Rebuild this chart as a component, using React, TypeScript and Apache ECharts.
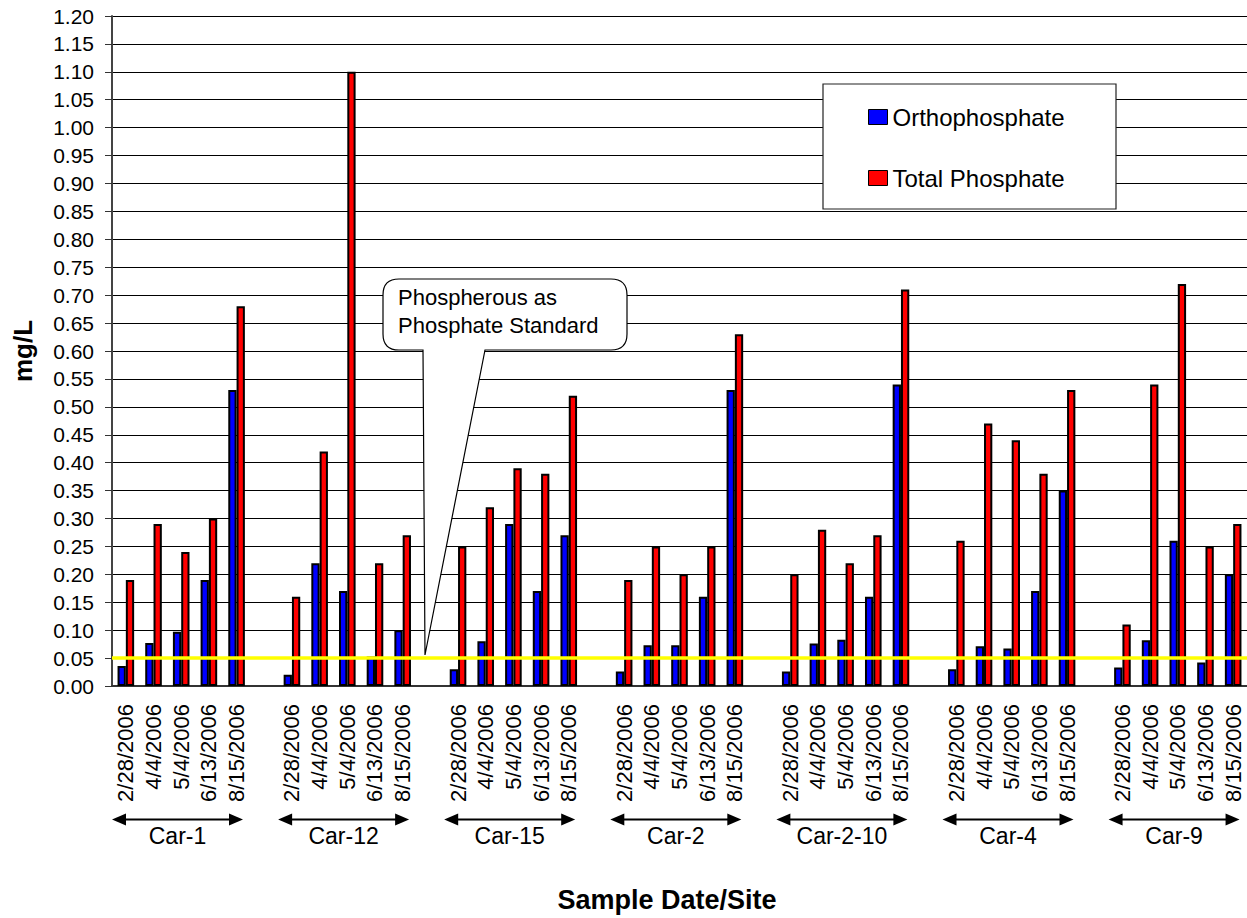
import { useEffect, useRef } from "react";
import * as echarts from "echarts";

// Sites and sample dates along the x axis
const sites = ["Car-1", "Car-12", "Car-15", "Car-2", "Car-2-10", "Car-4", "Car-9"];
const dates = ["2/28/2006", "4/4/2006", "5/4/2006", "6/13/2006", "8/15/2006"];

// mg/L, five dates per site, in site order
const orthophosphate = [
  0.036, 0.077, 0.097, 0.19, 0.53,
  0.02, 0.22, 0.17, 0.053, 0.10,
  0.03, 0.08, 0.29, 0.17, 0.27,
  0.026, 0.073, 0.073, 0.16, 0.53,
  0.026, 0.076, 0.083, 0.16, 0.54,
  0.03, 0.071, 0.067, 0.17, 0.35,
  0.033, 0.082, 0.26, 0.042, 0.20,
];
const totalPhosphate = [
  0.19, 0.29, 0.24, 0.30, 0.68,
  0.16, 0.42, 1.10, 0.22, 0.27,
  0.25, 0.32, 0.39, 0.38, 0.52,
  0.19, 0.25, 0.20, 0.25, 0.63,
  0.20, 0.28, 0.22, 0.27, 0.71,
  0.26, 0.47, 0.44, 0.38, 0.53,
  0.11, 0.54, 0.72, 0.25, 0.29,
];
const phosphateStandard = 0.05;

const FONT = "'Liberation Sans', Arial, sans-serif";

echarts.graphic.registerShape(
  "callout",
  echarts.graphic.extendPath(
    "M16,0 H228 Q244,0 244,16 V55 Q244,71 228,71 H102 L42,376 L40,71 H16 Q0,71 0,55 V16 Q0,0 16,0 Z",
    {}
  )
);

// one empty category between site groups
function buildCategories() {
  const cats: string[] = [];
  const ortho: (number | string)[] = [];
  const total: (number | string)[] = [];
  sites.forEach((_, i) => {
    dates.forEach((d, j) => {
      cats.push(d);
      ortho.push(orthophosphate[i * dates.length + j]);
      total.push(totalPhosphate[i * dates.length + j]);
    });
    if (i < sites.length - 1) {
      cats.push("");
      ortho.push("-");
      total.push("-");
    }
  });
  return { cats, ortho, total };
}

export default function App() {
  const ref = useRef<HTMLDivElement>(null);

  useEffect(() => {
    if (!ref.current) return;
    const chart = echarts.init(ref.current, null, { renderer: "svg" });
    const { cats, ortho, total } = buildCategories();

    const staticGraphics: any[] = [
      {
        id: "legendBox",
        type: "rect",
        shape: { x: 823, y: 84, width: 293, height: 125 },
        style: { fill: "#fff", stroke: "#222", lineWidth: 1.2 },
        z: 3,
      },
      {
        id: "callout",
        type: "callout",
        x: 383,
        y: 279,
        style: { fill: "#fff", stroke: "#000", lineWidth: 1.2 },
        z: 10,
      },
      {
        id: "calloutText",
        type: "text",
        x: 398,
        y: 283,
        z: 11,
        style: {
          text: "Phospherous as\nPhosphate Standard",
          font: `22px ${FONT}`,
          lineHeight: 28,
          fill: "#000",
        },
      },
      {
        id: "xTitle",
        type: "text",
        x: 667,
        y: 900,
        style: {
          text: "Sample Date/Site",
          font: `bold 27px ${FONT}`,
          fill: "#000",
          align: "center",
          verticalAlign: "middle",
        },
      },
    ];

    chart.setOption({
      animation: false,
      textStyle: { fontFamily: FONT },
      grid: { left: 112, right: 0, top: 16, bottom: 232, outerBoundsMode: "none", containLabel: false },
      legend: {
        orient: "vertical",
        left: 868,
        top: 104,
        padding: 0,
        itemGap: 35,
        itemWidth: 19,
        itemHeight: 15,
        icon: "rect",
        z: 5,
        itemStyle: { borderColor: "#000", borderWidth: 1 },
        textStyle: { fontSize: 24, color: "#000", lineHeight: 26, fontFamily: FONT },
        data: ["Orthophosphate", "Total Phosphate"],
      },
      xAxis: {
        type: "category",
        data: cats,
        boundaryGap: true,
        axisLine: { lineStyle: { color: "#333", width: 2 } },
        axisTick: { interval: 0, length: 7, lineStyle: { color: "#333" } },
        axisLabel: {
          interval: 0,
          rotate: 90,
          margin: 18,
          fontSize: 22,
          color: "#000",
          fontFamily: FONT,
        },
        splitLine: { show: false },
      },
      yAxis: {
        type: "value",
        min: 0,
        max: 1.2,
        interval: 0.05,
        name: "mg/L",
        nameLocation: "middle",
        nameRotate: 90,
        nameGap: 76,
        nameTextStyle: { fontSize: 26, fontWeight: "bold", color: "#000", fontFamily: FONT },
        axisLine: { show: true, lineStyle: { color: "#444", width: 2 } },
        axisTick: { show: true, length: 7, lineStyle: { color: "#333" } },
        axisLabel: {
          margin: 18,
          fontSize: 21,
          color: "#000",
          fontFamily: FONT,
          formatter: (v: number) => v.toFixed(2),
        },
        splitLine: { lineStyle: { color: "#000", width: 1 } },
      },
      series: [
        {
          name: "Orthophosphate",
          type: "bar",
          data: ortho,
          barWidth: 8.3,
          barGap: "0%",
          itemStyle: { color: "#0000ff", borderColor: "#000", borderWidth: 2 },
        },
        {
          name: "Total Phosphate",
          type: "bar",
          data: total,
          barWidth: 8.3,
          barGap: "0%",
          itemStyle: { color: "#ff0000", borderColor: "#000", borderWidth: 2 },
          markLine: {
            silent: true,
            symbol: ["none", "none"],
            label: { show: false },
            lineStyle: { color: "#ffff00", width: 3.5, type: "solid" },
            data: [{ yAxis: phosphateStandard }],
          },
        },
      ],
      graphic: staticGraphics,
    });

    // site arrows and names under the date labels
    const arrowY = 819.5;
    const arrowLen = 131;
    const siteGraphics: any[] = [];
    sites.forEach((site, i) => {
      const first = i * (dates.length + 1);
      const c0 = chart.convertToPixel({ xAxisIndex: 0 }, first) as number;
      const c1 = chart.convertToPixel({ xAxisIndex: 0 }, first + 1) as number;
      const x0 = c0 - (c1 - c0) / 2;
      const x1 = x0 + arrowLen;
      siteGraphics.push(
        {
          id: `arrowLine${i}`,
          type: "line",
          shape: { x1: x0 + 8, y1: arrowY, x2: x1 - 8, y2: arrowY },
          style: { stroke: "#000", lineWidth: 2 },
        },
        {
          id: `arrowL${i}`,
          type: "polygon",
          shape: { points: [[x0, arrowY], [x0 + 14, arrowY - 6], [x0 + 14, arrowY + 6]] },
          style: { fill: "#000" },
        },
        {
          id: `arrowR${i}`,
          type: "polygon",
          shape: { points: [[x1, arrowY], [x1 - 14, arrowY - 6], [x1 - 14, arrowY + 6]] },
          style: { fill: "#000" },
        },
        {
          id: `siteName${i}`,
          type: "text",
          x: (x0 + x1) / 2,
          y: 836,
          style: {
            text: site,
            font: `23px ${FONT}`,
            fill: "#000",
            align: "center",
            verticalAlign: "middle",
          },
        }
      );
    });
    chart.setOption({ graphic: [...staticGraphics, ...siteGraphics] });

    return () => chart.dispose();
  }, []);

  return (
    <div
      ref={ref}
      style={{ position: "absolute", left: 0, top: 0, width: 1247, height: 918, background: "#fff" }}
    />
  );
}
